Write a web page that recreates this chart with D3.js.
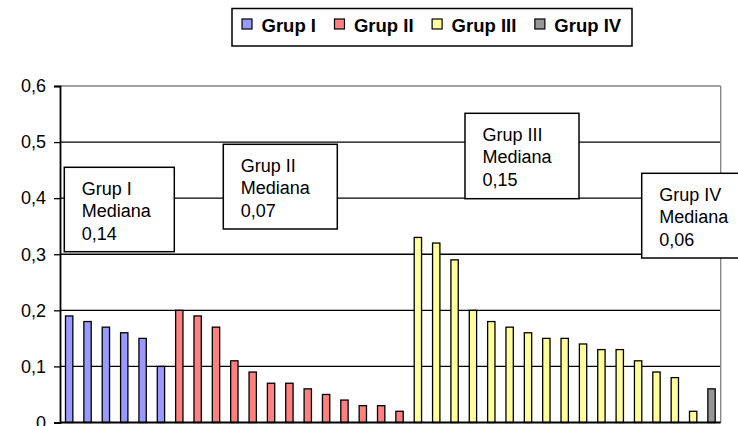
<!DOCTYPE html>
<html>
<head>
<meta charset="utf-8">
<script src="https://cdn.jsdelivr.net/npm/d3@7"></script>
<style>
  html, body { margin: 0; padding: 0; background: #fff; }
  svg { display: block; font-family: "Liberation Sans", Arial, sans-serif; }
</style>
</head>
<body>
<svg id="chart" width="738" height="426"></svg>
<script>
// ---- data ----
const seriesNames = ["Grup I", "Grup II", "Grup III", "Grup IV"];
const grupI   = [0.19, 0.18, 0.17, 0.16, 0.15, 0.10];
const grupII  = [0.20, 0.19, 0.17, 0.11, 0.09, 0.07, 0.07, 0.06, 0.05, 0.04, 0.03, 0.03, 0.02];
const grupIII = [0.33, 0.32, 0.29, 0.20, 0.18, 0.17, 0.16, 0.15, 0.15, 0.14, 0.13, 0.13, 0.11, 0.09, 0.08, 0.02];
const grupIV  = [0.06];
const yTicks = [0, 0.1, 0.2, 0.3, 0.4, 0.5, 0.6];
const medianLabels = [
  ["Grup I", "Mediana", "0,14"],
  ["Grup II", "Mediana", "0,07"],
  ["Grup III", "Mediana", "0,15"],
  ["Grup IV", "Mediana", "0,06"]
];
const colors = ["#9999FF", "#FF8080", "#FFFF99", "#969696"];

(function () {
// build table
const groups = [grupI, grupII, grupIII, grupIV];
const rows = [];
groups.forEach((arr, gi) => arr.forEach(v => rows.push({ id: rows.length + 1, group: gi, value: v })));
const categories = rows.map(r => r.id);

const svg = d3.select("#chart");
const pLeft = 60, pRight = 720.7, pTop = 86, pBottom = 422.5;

const x = d3.scaleBand().domain(categories).range([pLeft, pRight]).paddingInner(0.6).paddingOuter(0.3);
const y = d3.scaleLinear().domain([0, 0.6]).range([pBottom, pTop]);

// gridlines
svg.append("g").selectAll("line").data(yTicks.filter(t => t > 0))
  .join("line")
  .attr("x1", pLeft).attr("x2", pRight)
  .attr("y1", d => y(d)).attr("y2", d => y(d))
  .attr("stroke", d => d === 0.6 ? "#808080" : "#000")
  .attr("stroke-width", 1.3);

// right border
svg.append("line").attr("x1", pRight).attr("x2", pRight).attr("y1", pTop).attr("y2", pBottom)
  .attr("stroke", "#808080").attr("stroke-width", 1.3);

// bars
svg.append("g").selectAll("rect").data(rows)
  .join("rect")
  .attr("x", d => x(d.id))
  .attr("width", x.bandwidth())
  .attr("y", d => y(d.value))
  .attr("height", d => y(0) - y(d.value))
  .attr("fill", d => colors[d.group])
  .attr("stroke", "#000")
  .attr("stroke-width", 1.3);

// y axis
const yAxis = d3.axisLeft(y).tickValues(yTicks).tickSize(6).tickPadding(8)
  .tickFormat(d => d === 0 ? "0" : d3.format(".1f")(d).replace(".", ","));
const ya = svg.append("g").attr("transform", `translate(${pLeft},0)`).call(yAxis);
ya.select(".domain").attr("stroke", "#000").attr("stroke-width", 1.8);
ya.selectAll(".tick line").attr("stroke", "#000").attr("stroke-width", 1.3);
ya.selectAll(".tick text").attr("font-size", 18).attr("fill", "#000")
  .attr("font-family", "'Liberation Sans', Arial, sans-serif");

// x axis line
svg.append("line").attr("x1", pLeft).attr("x2", pRight).attr("y1", pBottom).attr("y2", pBottom)
  .attr("stroke", "#000").attr("stroke-width", 2);

// annotation boxes
const boxes = [
  { x: 64.3, y: 167.3, w: 110, h: 84.4 },
  { x: 223.3, y: 144.3, w: 114, h: 84.7 },
  { x: 465, y: 113.3, w: 114, h: 85.4 },
  { x: 641.7, y: 173.3, w: 110, h: 84.7 }
];
boxes.forEach((b, i) => {
  const g = svg.append("g");
  g.append("rect").attr("x", b.x).attr("y", b.y).attr("width", b.w).attr("height", b.h)
    .attr("fill", "#fff").attr("stroke", "#000").attr("stroke-width", 1.5);
  const t = g.append("text").attr("font-size", 18).attr("fill", "#000");
  medianLabels[i].forEach((line, li) => {
    t.append("tspan").attr("x", b.x + 17.5).attr("y", b.y + 27.5 + li * 22.4).text(line);
  });
});

// legend
const lg = svg.append("g");
lg.append("rect").attr("x", 232).attr("y", 8.5).attr("width", 400).attr("height", 37.5)
  .attr("fill", "#fff").attr("stroke", "#000").attr("stroke-width", 1.5);
let cx = 242;
seriesNames.forEach((name, i) => {
  lg.append("rect").attr("x", cx).attr("y", 19).attr("width", 10).attr("height", 10)
    .attr("fill", colors[i]).attr("stroke", "#000").attr("stroke-width", 1.2);
  const t = lg.append("text").attr("x", cx + 19.5).attr("y", 32.3)
    .attr("font-size", 18.5).attr("font-weight", "bold").attr("fill", "#000").text(name);
  cx = cx + 19.5 + t.node().getComputedTextLength() + 18.5;
});
})();
</script>
</body>
</html>
